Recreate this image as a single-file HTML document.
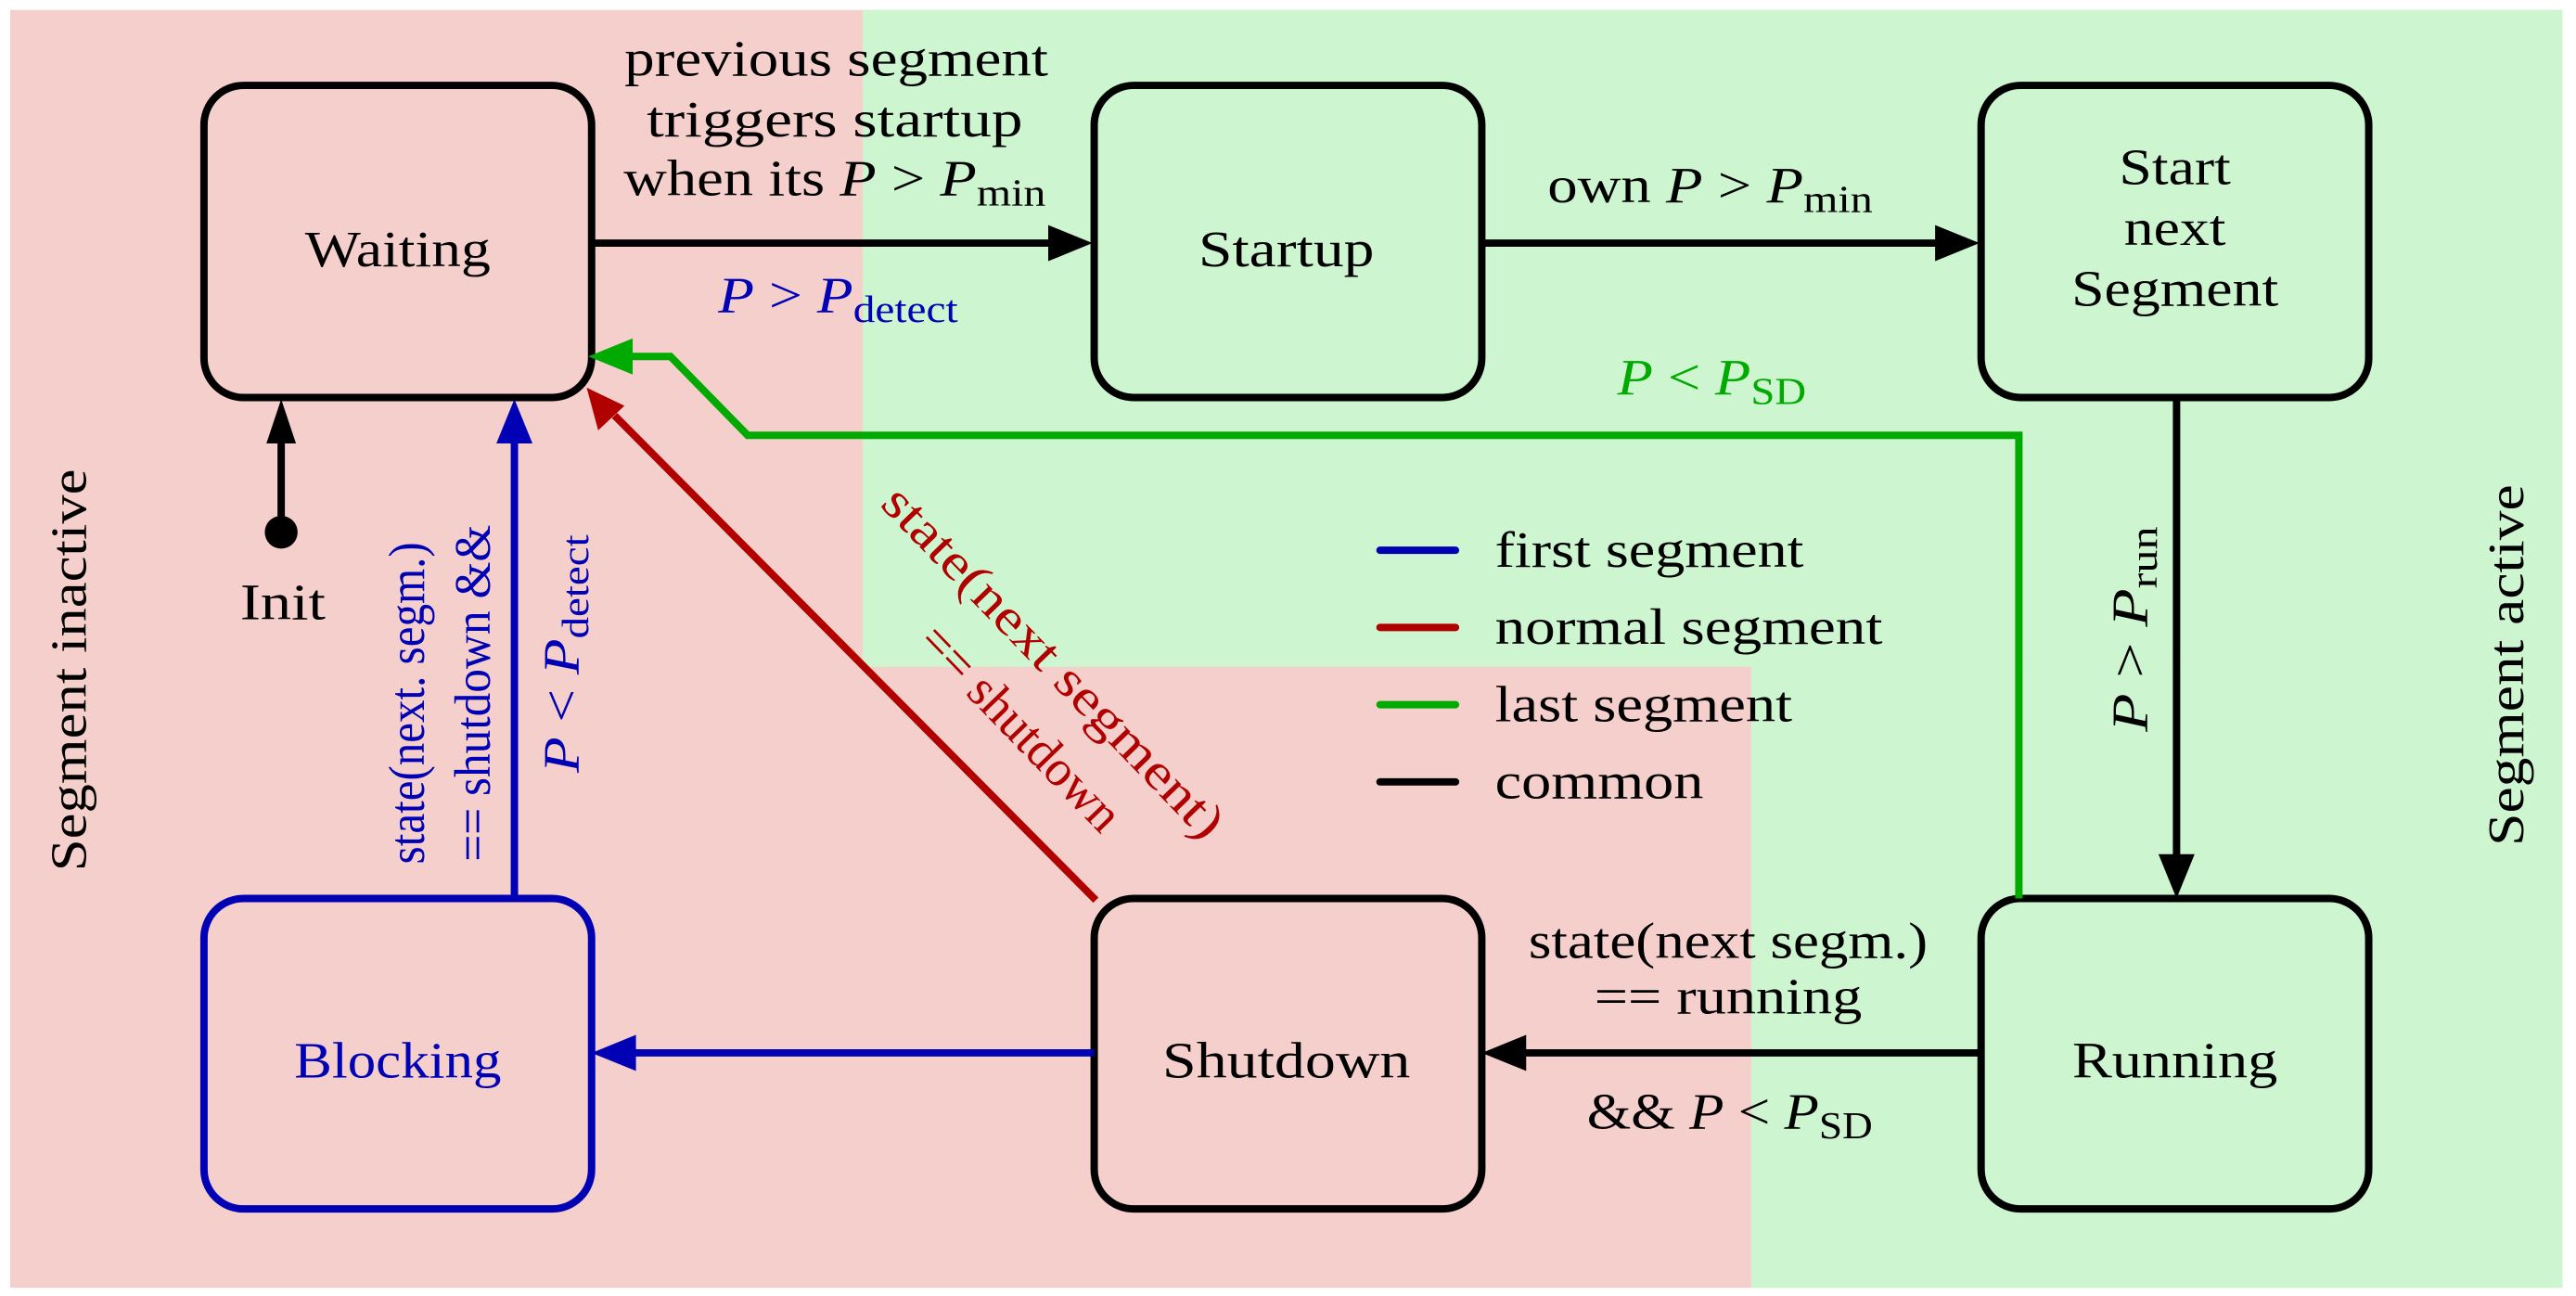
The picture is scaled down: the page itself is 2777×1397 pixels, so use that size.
<!DOCTYPE html>
<html><head><meta charset="utf-8"><style>
html,body{margin:0;padding:0;background:#fff;}
svg{display:block;}
text{font-family:"Liberation Serif",serif;font-size:31px;}
</style></head><body>
<svg width="2777" height="1397" viewBox="0 0 1568 789" xmlns="http://www.w3.org/2000/svg">
<rect x="0" y="0" width="1568" height="789" fill="#fff"/>
<rect x="6" y="6" width="1554" height="778" fill="#f5cfcb"/>
<rect x="525" y="6" width="1035" height="400" fill="#cdf5cf"/>
<rect x="1066" y="406" width="494" height="378" fill="#cdf5cf"/>

<g fill="none" stroke-width="4.5">
<rect x="124" y="52" width="236" height="190" rx="24" stroke="#000"/>
<rect x="666" y="52" width="236" height="190" rx="24" stroke="#000"/>
<rect x="1206" y="52" width="236" height="190" rx="24" stroke="#000"/>
<rect x="1206" y="547" width="236" height="189" rx="24" stroke="#000"/>
<rect x="666" y="547" width="236" height="189" rx="24" stroke="#000"/>
<rect x="124" y="547" width="236" height="189" rx="24" stroke="#0000b4"/>
</g>

<g stroke-width="4.5" fill="none">
<line x1="362" y1="148" x2="640" y2="148" stroke="#000"/>
<line x1="902" y1="148" x2="1180" y2="148" stroke="#000"/>
<line x1="1325" y1="242" x2="1325" y2="522" stroke="#000"/>
<line x1="1206" y1="641" x2="928" y2="641" stroke="#000"/>
<line x1="666" y1="641" x2="386" y2="641" stroke="#0000b4"/>
<line x1="313" y1="547" x2="313" y2="268" stroke="#0000b4"/>
<line x1="171" y1="323" x2="171" y2="268" stroke="#000"/>
<line x1="667" y1="548" x2="374" y2="253" stroke="#b00000"/>
<polyline points="1229,547 1229,265 455,265 408,217 384,217" stroke="#00aa00"/>
</g>
<g>
<polygon points="665,148 638,137 638,159" fill="#000"/>
<polygon points="1205,148 1178,137 1178,159" fill="#000"/>
<polygon points="1325,547 1314,520 1336,520" fill="#000"/>
<polygon points="902,641 929,630 929,652" fill="#000"/>
<polygon points="360,641 387,630 387,652" fill="#0000b4"/>
<polygon points="313,243 302,270 324,270" fill="#0000b4"/>
<polygon points="171,243 162,270 180,270" fill="#000"/>
<polygon points="357,236 364,262 380,247" fill="#b00000"/>
<polygon points="358,217 385,206 385,228" fill="#00aa00"/>
<circle cx="171" cy="324" r="10" fill="#000"/>
</g>

<g fill="#000" text-anchor="middle">
<text x="242" y="162" textLength="113" lengthAdjust="spacingAndGlyphs">Waiting</text>
<text x="783" y="162" textLength="107" lengthAdjust="spacingAndGlyphs">Startup</text>
<text x="1324" y="112" textLength="68" lengthAdjust="spacingAndGlyphs">Start</text>
<text x="1324" y="149" textLength="62" lengthAdjust="spacingAndGlyphs">next</text>
<text x="1324" y="186" textLength="126" lengthAdjust="spacingAndGlyphs">Segment</text>
<text x="1324" y="656" textLength="125" lengthAdjust="spacingAndGlyphs">Running</text>
<text x="783" y="656" textLength="151" lengthAdjust="spacingAndGlyphs">Shutdown</text>
<text x="242" y="656" fill="#0000b4" textLength="126" lengthAdjust="spacingAndGlyphs">Blocking</text>
<text x="172" y="377" textLength="52" lengthAdjust="spacingAndGlyphs">Init</text>
<text x="509" y="46" textLength="258" lengthAdjust="spacingAndGlyphs">previous segment</text>
<text x="508" y="83" textLength="229" lengthAdjust="spacingAndGlyphs">triggers startup</text>
<text x="508" y="119" textLength="257" lengthAdjust="spacingAndGlyphs">when its <tspan font-style="italic">P</tspan> &gt; <tspan font-style="italic">P</tspan><tspan font-size="23" dy="6">min</tspan></text>
<text x="510" y="190" fill="#0000b4" textLength="146" lengthAdjust="spacingAndGlyphs"><tspan font-style="italic">P</tspan> &gt; <tspan font-style="italic">P</tspan><tspan font-size="23" dy="6">detect</tspan></text>
<text x="1041" y="123" textLength="198" lengthAdjust="spacingAndGlyphs">own <tspan font-style="italic">P</tspan> &gt; <tspan font-style="italic">P</tspan><tspan font-size="23" dy="6">min</tspan></text>
<text x="1042" y="240" fill="#00aa00" textLength="115" lengthAdjust="spacingAndGlyphs"><tspan font-style="italic">P</tspan> &lt; <tspan font-style="italic">P</tspan><tspan font-size="23" dy="6">SD</tspan></text>
<text x="1052" y="583" textLength="243" lengthAdjust="spacingAndGlyphs">state(next segm.)</text>
<text x="1052" y="617" textLength="163" lengthAdjust="spacingAndGlyphs">== running</text>
<text x="1053" y="687" textLength="174" lengthAdjust="spacingAndGlyphs">&amp;&amp; <tspan font-style="italic">P</tspan> &lt; <tspan font-style="italic">P</tspan><tspan font-size="23" dy="6">SD</tspan></text>
<text transform="translate(1307,383) rotate(-90)" textLength="125" lengthAdjust="spacingAndGlyphs"><tspan font-style="italic">P</tspan> &gt; <tspan font-style="italic">P</tspan><tspan font-size="23" dy="6">run</tspan></text>
<text transform="translate(52,408) rotate(-90)" textLength="245" lengthAdjust="spacingAndGlyphs">Segment inactive</text>
<text transform="translate(1536,405) rotate(-90)" textLength="220" lengthAdjust="spacingAndGlyphs">Segment active</text>
</g>
<g fill="#0000b4" text-anchor="middle">
<text transform="translate(258,428) rotate(-90)" textLength="196" lengthAdjust="spacingAndGlyphs">state(next. segm.)</text>
<text transform="translate(298,422) rotate(-90)" textLength="205" lengthAdjust="spacingAndGlyphs">== shutdown &amp;&amp;</text>
<text transform="translate(352,398) rotate(-90)" textLength="145" lengthAdjust="spacingAndGlyphs"><tspan font-style="italic">P</tspan> &lt; <tspan font-style="italic">P</tspan><tspan font-size="23" dy="6">detect</tspan></text>
</g>
<g fill="#b00000" text-anchor="middle">
<text transform="translate(634,410) rotate(46)" textLength="285" lengthAdjust="spacingAndGlyphs">state(next segment)</text>
<text transform="translate(614,450) rotate(46)" textLength="162" lengthAdjust="spacingAndGlyphs">== shutdown</text>
</g>

<g stroke-width="4.5" stroke-linecap="round">
<line x1="840" y1="335" x2="886" y2="335" stroke="#0000b4"/>
<line x1="840" y1="382" x2="886" y2="382" stroke="#b00000"/>
<line x1="840" y1="429" x2="886" y2="429" stroke="#00aa00"/>
<line x1="840" y1="476" x2="886" y2="476" stroke="#000"/>
</g>
<g fill="#000">
<text x="910" y="345" textLength="188" lengthAdjust="spacingAndGlyphs">first segment</text>
<text x="910" y="392" textLength="236" lengthAdjust="spacingAndGlyphs">normal segment</text>
<text x="910" y="439" textLength="181" lengthAdjust="spacingAndGlyphs">last segment</text>
<text x="910" y="486" textLength="127" lengthAdjust="spacingAndGlyphs">common</text>
</g>
</svg>
</body></html>
